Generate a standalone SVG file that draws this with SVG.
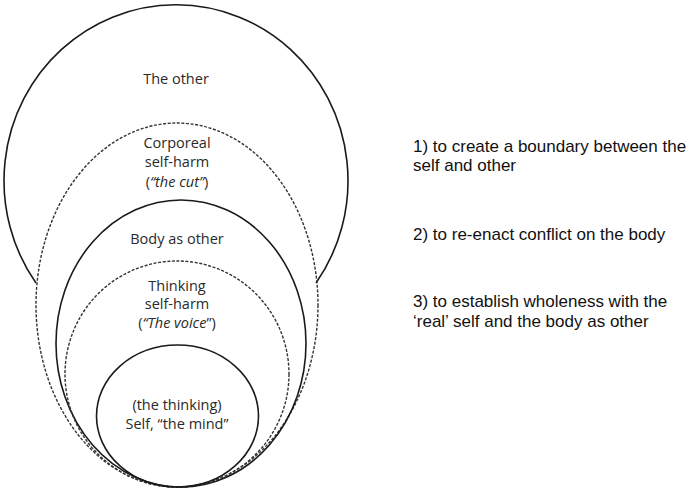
<svg xmlns="http://www.w3.org/2000/svg" width="694" height="491" viewBox="0 0 694 491">
<style>
.solid{fill:none;stroke:#1a1a1a;stroke-width:1.6}
.dash{fill:none;stroke:#333;stroke-width:1.4;stroke-dasharray:3 1.6}
.lbl{font-family:"Open Sans","Noto Sans",sans-serif;font-size:14.5px;fill:#2a2a2a;text-anchor:middle}
.it{font-style:italic}
.side{font-family:"Liberation Sans",Arial,sans-serif;font-size:17px;fill:#111}
</style>
<rect width="694" height="491" fill="#fff"/>
<g id="the-other">
<path class="solid" d="M36,283 A172,176 0 1 1 316,283"/>
<text class="lbl" x="176" y="84">The other</text>
</g>
<g id="corporeal">
<ellipse class="dash" cx="177" cy="305" rx="141" ry="182"/>
<text class="lbl" x="177" y="148">Corporeal</text>
<text class="lbl" x="177" y="167">self-harm</text>
<text class="lbl" x="177" y="187">(<tspan class="it">“the cut”</tspan>)</text>
</g>
<g id="body-as-other">
<ellipse class="solid" cx="181" cy="343.5" rx="125" ry="143.5"/>
<text class="lbl" x="177" y="244">Body as other</text>
</g>
<g id="thinking">
<ellipse class="dash" cx="177" cy="374" rx="112" ry="113"/>
<text class="lbl" x="177" y="291">Thinking</text>
<text class="lbl" x="177" y="309">self-harm</text>
<text class="lbl" x="177" y="328">(<tspan class="it">“The voice</tspan>”)</text>
</g>
<g id="self">
<ellipse class="solid" cx="177.5" cy="416" rx="81" ry="71"/>
<text class="lbl" x="177" y="410">(the thinking)</text>
<text class="lbl" x="177" y="429">Self, “the mind”</text>
</g>
<g id="functions">
<text class="side" x="413" y="152">1) to create a boundary between the</text>
<text class="side" x="413" y="171">self and other</text>
<text class="side" x="413" y="240">2) to re-enact conflict on the body</text>
<text class="side" x="413" y="307">3) to establish wholeness with the</text>
<text class="side" x="413" y="327">‘real’ self and the body as other</text>
</g>
<g id="connectors"></g>
</svg>
